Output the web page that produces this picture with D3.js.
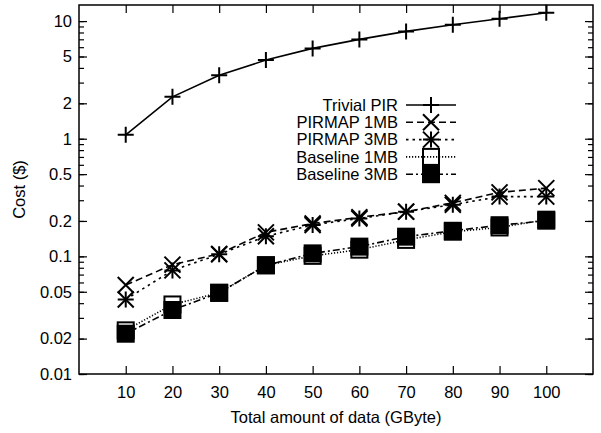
<!DOCTYPE html>
<html>
<head>
<meta charset="utf-8">
<script src="https://cdn.jsdelivr.net/npm/d3@7"></script>
<style>
  body { margin: 0; background: #fff; }
  text { font-family: "Liberation Sans", Arial, sans-serif; fill: #000; }
</style>
</head>
<body>
<div id="chart"></div>
<script>
// Data
const dataSizes = [10, 20, 30, 40, 50, 60, 70, 80, 90, 100];
const trivialPIR = [1.08, 2.27, 3.46, 4.66, 5.86, 6.99, 8.17, 9.3, 10.47, 11.77];
const pirmap1MB = [0.057, 0.085, 0.105, 0.16, 0.19, 0.215, 0.24, 0.285, 0.35, 0.38];
const pirmap3MB = [0.043, 0.076, 0.104, 0.148, 0.185, 0.21, 0.24, 0.275, 0.322, 0.322];
const baseline1MB = [0.0235, 0.039, 0.049, 0.084, 0.101, 0.114, 0.138, 0.162, 0.176, 0.205];
const baseline3MB = [0.022, 0.035, 0.049, 0.084, 0.106, 0.121, 0.147, 0.165, 0.184, 0.201];
const seriesNames = ["Trivial PIR", "PIRMAP 1MB", "PIRMAP 3MB", "Baseline 1MB", "Baseline 3MB"];
const yTickLabels = [0.01, 0.02, 0.05, 0.1, 0.2, 0.5, 1, 2, 5, 10];
const xTickLabels = [10, 20, 30, 40, 50, 60, 70, 80, 90, 100];

const series = [
  { name: seriesNames[0], values: trivialPIR, dash: null, marker: "plus" },
  { name: seriesNames[1], values: pirmap1MB, dash: "7,4", marker: "cross" },
  { name: seriesNames[2], values: pirmap3MB, dash: "2.5,4", marker: "star" },
  { name: seriesNames[3], values: baseline1MB, dash: "1.2,1.8", marker: "box" },
  { name: seriesNames[4], values: baseline3MB, dash: "7,3,2,3", marker: "fbox" }
];

const width = 601, height = 433;
const plot = { left: 79, right: 593, top: 5, bottom: 374 };

const svg = d3.select("#chart").append("svg")
  .attr("width", width)
  .attr("height", height);

const x = d3.scaleLinear().domain([0, 110]).range([plot.left, plot.right]);
const y = d3.scaleLog().domain([0.01, 13.7]).range([plot.bottom, plot.top]);

// minor ticks: every integer multiple inside each decade
const minorTicks = [];
[0.01, 0.1, 1].forEach(dec => {
  for (let k = 1; k <= 9; k++) minorTicks.push(dec * k);
});
minorTicks.push(10);

const fontSize = 16.5;

// y axis, left and right
svg.append("g")
  .attr("transform", `translate(${plot.left},0)`)
  .call(d3.axisLeft(y).tickValues(minorTicks).tickSize(-5).tickFormat(""))
  .call(g => g.select(".domain").remove());
svg.append("g")
  .attr("transform", `translate(${plot.right},0)`)
  .call(d3.axisRight(y).tickValues(minorTicks).tickSize(-5).tickFormat(""))
  .call(g => g.select(".domain").remove());
svg.append("g")
  .attr("transform", `translate(${plot.left},0)`)
  .call(d3.axisLeft(y).tickValues(yTickLabels).tickSize(-8).tickPadding(7).tickFormat(d => d3.format("~g")(d)))
  .call(g => g.select(".domain").remove())
  .selectAll("text").style("font-size", fontSize + "px").attr("font-family", null);
svg.append("g")
  .attr("transform", `translate(${plot.right},0)`)
  .call(d3.axisRight(y).tickValues(yTickLabels).tickSize(-8).tickFormat(""))
  .call(g => g.select(".domain").remove());

// x axis, bottom and top
svg.append("g")
  .attr("transform", `translate(0,${plot.bottom})`)
  .call(d3.axisBottom(x).tickValues(xTickLabels).tickSize(-8).tickPadding(12))
  .call(g => g.select(".domain").remove())
  .selectAll("text").style("font-size", fontSize + "px").attr("font-family", null);
svg.append("g")
  .attr("transform", `translate(0,${plot.top})`)
  .call(d3.axisTop(x).tickValues(xTickLabels).tickSize(-8).tickFormat(""))
  .call(g => g.select(".domain").remove());

svg.selectAll(".tick line").attr("stroke", "#000").attr("stroke-width", 1.2);

// frame
svg.append("rect")
  .attr("x", plot.left).attr("y", plot.top)
  .attr("width", plot.right - plot.left).attr("height", plot.bottom - plot.top)
  .attr("fill", "none").attr("stroke", "#000").attr("stroke-width", 1.5);

// axis titles
svg.append("text")
  .attr("x", (plot.left + plot.right) / 2).attr("y", 423)
  .attr("text-anchor", "middle")
  .style("font-size", fontSize + "px")
  .text("Total amount of data (GByte)");
svg.append("text")
  .attr("transform", `translate(25,${(plot.top + plot.bottom) / 2}) rotate(-90)`)
  .attr("text-anchor", "middle")
  .style("font-size", fontSize + "px")
  .text("Cost ($)");

// marker drawing
function drawMarker(g, type, cx, cy) {
  const s = 8;
  if (type === "plus" || type === "star") {
    g.append("path").attr("d", `M${cx - s},${cy}H${cx + s}M${cx},${cy - s}V${cy + s}`)
      .attr("stroke", "#000").attr("stroke-width", 2).attr("fill", "none");
  }
  if (type === "cross" || type === "star") {
    g.append("path").attr("d", `M${cx - s},${cy - s}L${cx + s},${cy + s}M${cx - s},${cy + s}L${cx + s},${cy - s}`)
      .attr("stroke", "#000").attr("stroke-width", 2).attr("fill", "none");
  }
  if (type === "box" || type === "fbox") {
    g.append("rect").attr("x", cx - s).attr("y", cy - s).attr("width", 2 * s).attr("height", 2 * s)
      .attr("fill", type === "fbox" ? "#000" : "none")
      .attr("stroke", "#000").attr("stroke-width", 2);
  }
}

const line = d3.line().x((d, i) => x(dataSizes[i])).y(d => y(d));

series.forEach(s => {
  const g = svg.append("g");
  g.append("path")
    .datum(s.values)
    .attr("d", line)
    .attr("fill", "none")
    .attr("stroke", "#000")
    .attr("stroke-width", 1.6)
    .attr("stroke-dasharray", s.dash);
  s.values.forEach((v, i) => drawMarker(g, s.marker, x(dataSizes[i]), y(v)));
});

// legend
const legend = { textRight: 398, lineStart: 406, lineEnd: 456, top: 105, step: 17.3 };
series.forEach((s, i) => {
  const ly = legend.top + i * legend.step;
  svg.append("text")
    .attr("x", legend.textRight).attr("y", ly)
    .attr("dy", "0.35em")
    .attr("text-anchor", "end")
    .style("font-size", fontSize + "px")
    .text(s.name);
  const g = svg.append("g");
  g.append("line")
    .attr("x1", legend.lineStart).attr("x2", legend.lineEnd)
    .attr("y1", ly).attr("y2", ly)
    .attr("stroke", "#000").attr("stroke-width", 1.6)
    .attr("stroke-dasharray", s.dash);
  drawMarker(g, s.marker, (legend.lineStart + legend.lineEnd) / 2, ly);
});
</script>
</body>
</html>
